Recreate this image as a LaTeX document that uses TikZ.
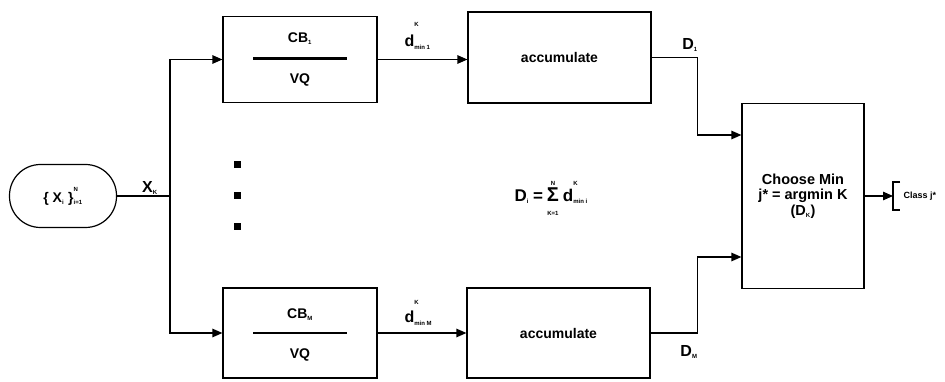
\documentclass[tikz,border=0pt]{standalone}
\usepackage{fontspec}
\setmainfont{Liberation Sans}
\usetikzlibrary{arrows.meta,calc}
\newcommand\supsubtxt[4]{#1\rlap{\raisebox{#4}{\fontsize{6}{6}\selectfont\bfseries #2}}\textsubscript{\fontsize{6}{6}\selectfont\bfseries #3}}
\begin{document}
\begin{tikzpicture}[x=1pt,y=-1pt,line width=1.2pt,
  blk/.style={draw,line width=1.2pt,inner sep=0pt},
  arr/.style={-{Triangle[length=10pt,width=8.5pt]}},
  boxtxt/.style={font=\fontsize{14}{15}\selectfont\bfseries},
  lbl/.style={font=\fontsize{16}{17}\selectfont\bfseries,inner sep=0pt},
  sq/.style={fill=black,minimum size=7pt,inner sep=0pt}]
\useasboundingbox (0,0) rectangle (945,382);
% source
\node[blk,rounded corners=31pt,minimum width=107pt,minimum height=63pt,
  font=\fontsize{14}{15}\selectfont\bfseries] (src) at (63,196)
  {\supsubtxt{\{ X\textsubscript{\fontsize{6}{6}\selectfont i} \}}{N}{i=1}{11pt}};
\coordinate (split) at (170,196);
% CB boxes
\node[blk,minimum width=154pt,minimum height=86pt] (cb1) at (300,59.5) {};
\node[boxtxt] (cb1t) at (300,39) {CB\textsubscript{\fontsize{6}{6}\selectfont 1}};
\node[boxtxt] (cb1b) at (300,80) {VQ};
\draw[line width=2.2pt] ($(cb1.center)+(-47,-1)$) -- ($(cb1.center)+(47,-1)$);
\node[blk,minimum width=154pt,minimum height=90pt] (cbM) at (300,333) {};
\node[boxtxt] (cbMt) at (300,315) {CB\textsubscript{\fontsize{6}{6}\selectfont M}};
\node[boxtxt] (cbMb) at (300,355) {VQ};
\draw[line width=2.2pt] ($(cbM.center)+(-47,0)$) -- ($(cbM.center)+(47,0)$);
% accumulate boxes
\node[blk,boxtxt,minimum width=183pt,minimum height=91pt] (acc1) at (559.5,57.5) {accumulate};
\node[blk,boxtxt,minimum width=183pt,minimum height=90pt] (accM) at (558.5,333) {accumulate};
% choose min
\node[blk,minimum width=122pt,minimum height=185pt,align=center,
  font=\fontsize{14.5}{15.5}\selectfont\bfseries] (choose) at (803,196)
  {Choose Min\\ j* = argmin K\\ (D\textsubscript{\fontsize{6}{6}\selectfont K})};
% dots
\node[sq] (dot1) at (237,165) {};
\node[sq] (dot2) at (237,196) {};
\node[sq] (dot3) at (237,227) {};
% connectors
\draw (src.east) -- (split);
\draw[arr] (split) |- (cb1.west);
\draw[arr] (split) |- (cbM.west);
\draw[arr] (cb1.east) -- (cb1.east -| acc1.west);
\draw[arr] (cbM.east) -- (cbM.east -| accM.west);
\draw[arr] (acc1.east) -- ++(46,0) |- ($(choose.west)+(0,-61)$);
\draw[arr] (accM.east) -- ++(46.5,0) |- ($(choose.west)+(0,61)$);
\coordinate (br) at (893,196);
\draw[arr] (choose.east) -- (br);
\draw (br) ++(7,-14) -- ++(-7,0) -- ++(0,28) -- ++(7,0);
\node[font=\fontsize{9}{10}\selectfont\bfseries,anchor=west,inner sep=0pt] (cls) at (903,196) {Class j*};
% labels
\node[lbl] (xk) at (150,188) {X\textsubscript{\fontsize{6}{6}\selectfont K}};
\node[lbl,anchor=west] (d1) at (404,36) {\supsubtxt{d}{K}{min 1}{20pt}};
\node[lbl,anchor=west] (dM) at (404,313) {\supsubtxt{d}{K}{min M}{18pt}};
\node[lbl] (D1) at (690,45) {D\textsubscript{\fontsize{6}{6}\selectfont 1}};
\node[lbl] (DM) at (689,352) {D\textsubscript{\fontsize{6}{6}\selectfont M}};
\node[lbl,anchor=west,font=\fontsize{17}{18}\selectfont\bfseries] (formula) at (514,197)
  {D\textsubscript{\fontsize{6}{6}\selectfont i}\hspace{4pt}=\hspace{4pt}\begin{tabular}[c]{@{}c@{}}{\fontsize{6}{6}\selectfont N}\\[-3pt]{\fontsize{20}{20}\selectfont Σ}\\[-4pt]{\fontsize{6}{6}\selectfont K=1}\end{tabular}\hspace{4pt}\supsubtxt{d}{K}{min i}{16pt}};
\end{tikzpicture}
\end{document}
